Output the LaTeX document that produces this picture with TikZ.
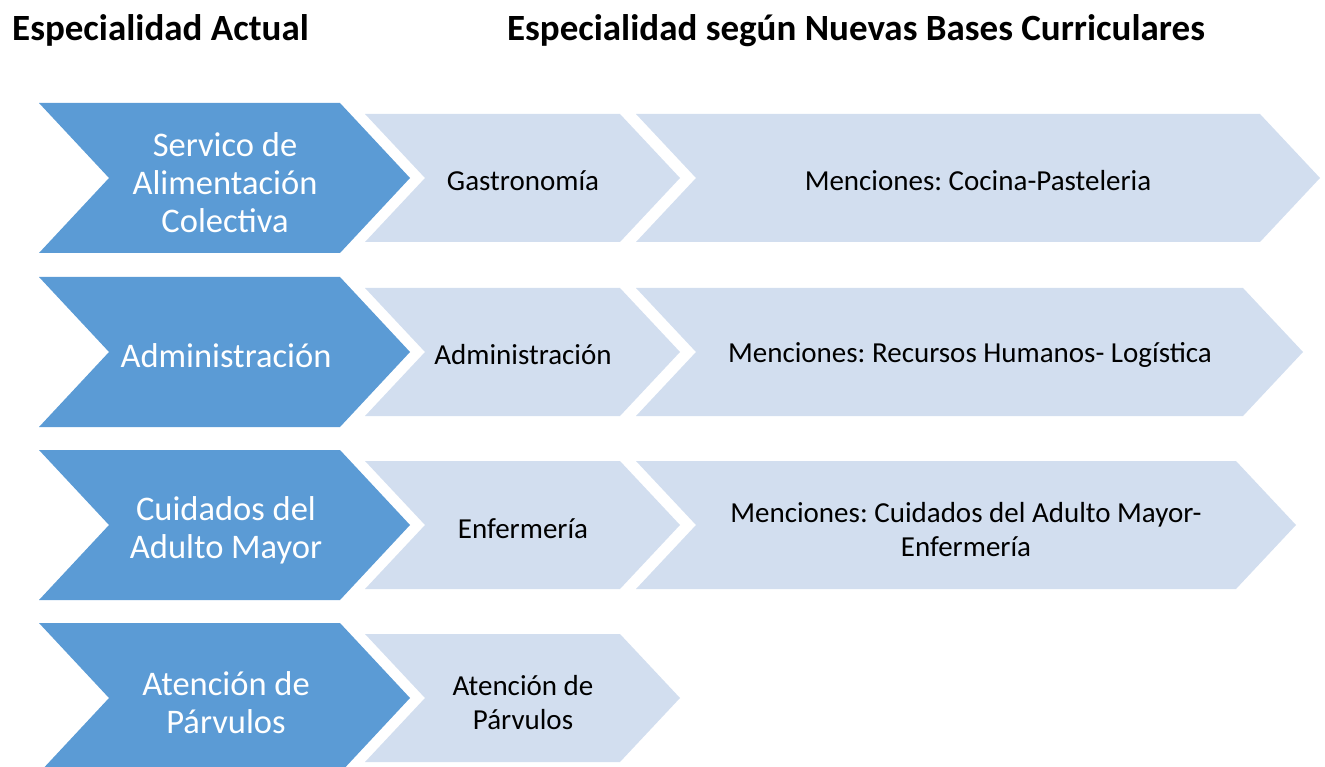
\documentclass[tikz,border=0pt]{standalone}
\usepackage{fontspec}
\setmainfont{Carlito}
\frenchspacing
\definecolor{dkblue}{HTML}{5B9BD5}
\definecolor{ltblue}{HTML}{D2DEEF}
\newcommand\chevshape[6]{% style, left, tip, top, bottom, depth
  \fill[#1] (#2,#4) -- ({#3-#6},#4) -- (#3,{(#4+#5)/2}) -- ({#3-#6},#5) -- (#2,#5) -- ({#2+#6},{(#4+#5)/2}) -- cycle;}
\begin{document}
\begin{tikzpicture}[x=1pt,y=-1pt,
  title/.style={font=\fontsize{37}{40}\selectfont\bfseries, inner sep=0pt},
  dktext/.style={font=\fontsize{34.5}{38}\selectfont, text=white, align=center, inner sep=0pt},
  lttext/.style={font=\fontsize{29}{34}\selectfont, text=black, align=center, inner sep=0pt},
  dkfill/.style={fill=dkblue},
  ltfill/.style={fill=ltblue}]
\useasboundingbox (0,0) rectangle (1325,767);
\clip (0,0) rectangle (1325,767);
% titles
\node[title, anchor=base west] (t1) at (12,41) {Especialidad Actual};
\node[title, anchor=base] (t2) at (856,41) {Especialidad según Nuevas Bases Curriculares};
% row 1
\chevshape{dkfill}{39}{410}{103}{253}{70}
\chevshape{ltfill}{365}{680}{114}{242}{60}
\chevshape{ltfill}{636}{1320}{114}{242}{60}
\node[dktext] (a1) at (225,183) {Servico de\\Alimentación\\Colectiva};
\node[lttext] (b1) at (523,181) {Gastronomía};
\node[lttext] (c1) at (978,181) {Menciones: Cocina-Pasteleria};
% row 2
\chevshape{dkfill}{39}{410}{277}{427}{70}
\chevshape{ltfill}{365}{680}{288}{416}{60}
\chevshape{ltfill}{636}{1303}{288}{416}{60}
\node[dktext] (a2) at (226,356) {Administración};
\node[lttext] (b2) at (523,355) {Administración};
\node[lttext] (c2) at (970,355) {Menciones: Recursos Humanos- Logística};
% row 3
\chevshape{dkfill}{39}{410}{450}{600}{70}
\chevshape{ltfill}{365}{680}{461}{589}{60}
\chevshape{ltfill}{636}{1296}{461}{589}{60}
\node[dktext] (a3) at (226,530) {Cuidados del\\Adulto Mayor};
\node[lttext] (b3) at (523,529) {Enfermería};
\node[lttext] (c3) at (966,530) {Menciones: Cuidados del Adulto Mayor-\\Enfermería};
% row 4
\chevshape{dkfill}{39}{410}{623}{773}{70}
\chevshape{ltfill}{365}{680}{634}{762}{60}
\node[dktext] (a4) at (226,703) {Atención de\\Párvulos};
\node[lttext] (b4) at (523,703) {Atención de\\Párvulos};
\end{tikzpicture}
\end{document}
